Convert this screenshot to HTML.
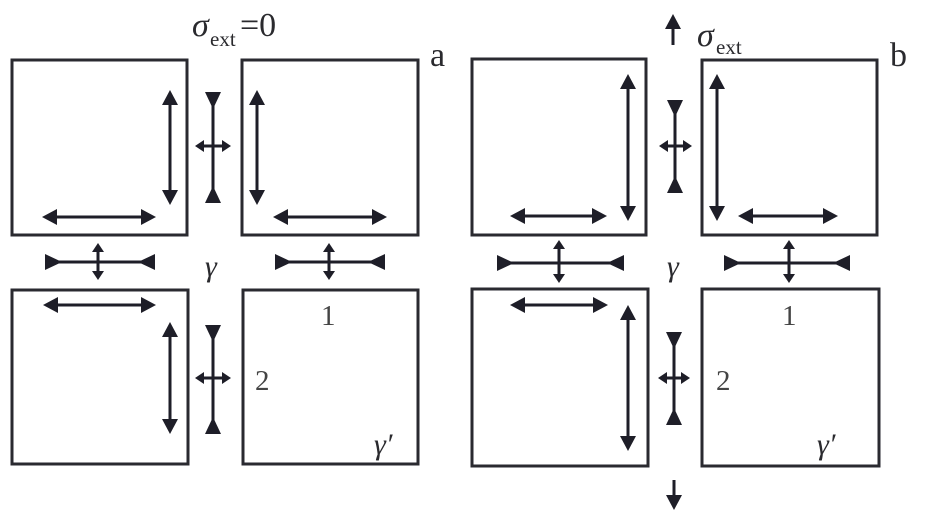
<!DOCTYPE html>
<html><head><meta charset="utf-8"><style>
html,body{margin:0;padding:0;background:#fff;}
svg{display:block;}
</style></head><body>
<svg id="s" width="939" height="524" viewBox="0 0 939 524" xmlns="http://www.w3.org/2000/svg">
<g fill="none" stroke="#2a2a30" stroke-width="3">
<rect x="12" y="60" width="175" height="175"/>
<rect x="242" y="60" width="176" height="175"/>
<rect x="12" y="290" width="176" height="174"/>
<rect x="243" y="290" width="175" height="174"/>
<rect x="472" y="59" width="174" height="176"/>
<rect x="702" y="60" width="175" height="175"/>
<rect x="472" y="289" width="176" height="177"/>
<rect x="702" y="289" width="177" height="177"/>
</g>
<g id="g" stroke="#1e1e28" fill="#1e1e28" stroke-width="3"></g>
<g font-family="'Liberation Serif','DejaVu Serif',serif" fill="#2a2a2e">
<text x="192" y="36" font-size="34" font-style="italic">σ</text>
<text x="210" y="46" font-size="21">ext</text>
<text x="240" y="36" font-size="34">=0</text>
<text x="430" y="66" font-size="34">a</text>
<text x="697" y="46" font-size="34" font-style="italic">σ</text>
<text x="716" y="54" font-size="21">ext</text>
<text x="890" y="66" font-size="34">b</text>
<text x="205" y="276" font-size="30" font-style="italic">γ</text>
<text x="667" y="276" font-size="30" font-style="italic">γ</text>
<text x="321" y="325" font-size="29" fill="#444">1</text>
<text x="782" y="325" font-size="29" fill="#444">1</text>
<text x="255" y="390" font-size="29" fill="#444">2</text>
<text x="716" y="390" font-size="29" fill="#444">2</text>
<text x="374" y="454" font-size="30" font-style="italic">γ′</text>
<text x="817" y="454" font-size="30" font-style="italic">γ′</text>
</g>
</svg>
<script>
var g=document.getElementById('g'),h='';
function L(a,b,c,d){h+='<line x1="'+a+'" y1="'+b+'" x2="'+c+'" y2="'+d+'"/>';}
function P(p){h+='<polygon stroke="none" points="'+p+'"/>';}
function H(x,y,dx,dy,s,w){var bx=x-dx*s,by=y-dy*s;P(x+','+y+' '+(bx-dy*w)+','+(by+dx*w)+' '+(bx+dy*w)+','+(by-dx*w));}
function DV(x,y1,y2,s,w){s=s||15;w=w||8;L(x,y1+s-2,x,y2-s+2);H(x,y1,0,-1,s,w);H(x,y2,0,1,s,w);}
function DH(y,x1,x2,s,w){s=s||15;w=w||8;L(x1+s-2,y,x2-s+2,y);H(x1,y,-1,0,s,w);H(x2,y,1,0,s,w);}
function TV(x,y1,y2){L(x,y1,x,y2);P((x-8)+','+y1+' '+(x+8)+','+y1+' '+x+','+(y1+17));P((x-8)+','+y2+' '+(x+8)+','+y2+' '+x+','+(y2-17));}
function TH(y,x1,x2){L(x1,y,x2,y);P(x1+','+(y-8)+' '+x1+','+(y+8)+' '+(x1+17)+','+y);P(x2+','+(y-8)+' '+x2+','+(y+8)+' '+(x2-17)+','+y);}
DV(170,90,205);DH(217,42,156);
TV(213,92,203);DH(146,195,231,9,6);
DV(257,90,205);DH(217,273,387);
TH(262,45,155);DV(98,243,280,9,6);
TH(262,275,385);DV(329,243,280,9,6);
DH(305,43,156);DV(170,322,434);
TV(213,325,434);DH(378,195,231,9,6);
DV(628,74,221);DH(216,510,607);
TV(675,100,193);DH(146,659,692,9,6);
DV(717,74,221);DH(216,738,838);
TH(263,497,624);DV(559,240,283,9,6);
TH(263,724,850);DV(789,240,283,9,6);
DH(305,510,608);DV(628,305,451);
TV(674,332,425);DH(378,658,690,9,6);
L(673,45,673,28);H(673,14,0,-1,15,8);
L(674,480,674,497);H(674,510,0,1,15,8);
g.innerHTML=h;
</script>
</body></html>
